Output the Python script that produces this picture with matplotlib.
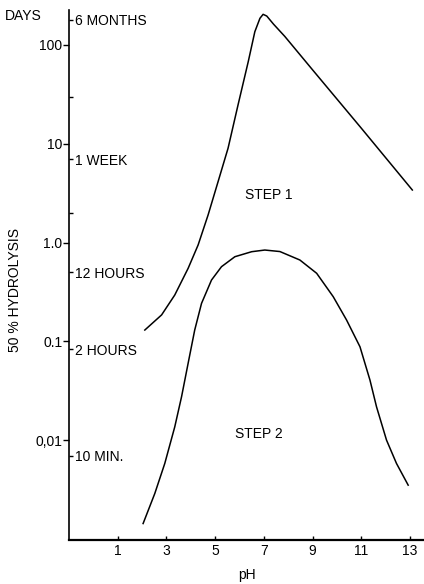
import matplotlib
matplotlib.use("Agg")
import matplotlib.pyplot as plt

plt.rcParams['font.family'] = ['Liberation Sans', 'DejaVu Sans']

# step 1 curve (pH, days for 50 % hydrolysis)
ph_step1 = [2.11, 2.80, 3.34, 3.89, 4.30, 4.71, 5.12, 5.53, 5.94, 6.36, 6.63, 6.84, 6.97, 7.12, 7.4, 7.86,
            9.0, 11.0, 13.1]
days_step1 = [0.13, 0.185, 0.294, 0.548, 0.944, 1.90, 4.13, 9.0, 24.7, 67.8, 136, 186, 204, 196, 162, 122,
              56, 14.4, 3.4]

# step 2 curve
ph_step2 = [2.04, 2.52, 2.93, 3.34, 3.62, 3.89, 4.16, 4.44, 4.85, 5.26, 5.81, 6.50, 7.04, 7.66, 8.48,
            9.17, 9.85, 10.40, 10.95, 11.36, 11.63, 12.04, 12.45, 12.93]
days_step2 = [0.00143, 0.00288, 0.0058, 0.0136, 0.0275, 0.060, 0.130, 0.242, 0.417, 0.569, 0.718, 0.807,
              0.839, 0.81, 0.665, 0.488, 0.283, 0.164, 0.088, 0.0405, 0.0217, 0.010, 0.0058, 0.0035]

left_ticks = [100, 10, 1.0, 0.1, 0.01]
left_labels = ['100', '10', '1.0', '0.1', '0,01']
right_ticks = [180, 7, 0.5, 2 / 24, 10 / 1440]
right_labels = ['6 MONTHS', '1 WEEK', '12 HOURS', '2 HOURS', '10 MIN.']
right_minor = [30, 2]
x_ticks = [1, 3, 5, 7, 9, 11, 13]

ylim = (0.00097, 226)
xlim = (-1.0, 13.58)

fig = plt.figure(figsize=(4.24, 5.84), dpi=100)
ax = fig.add_axes([0.163, 0.075, 0.837, 0.908])

ax.plot(ph_step1, days_step1, color='black', lw=1.1)
ax.plot(ph_step2, days_step2, color='black', lw=1.1)

ax.set_yscale('log')
ax.set_ylim(*ylim)
ax.set_xlim(*xlim)

ax.spines['top'].set_visible(False)
ax.spines['right'].set_visible(False)
ax.spines['left'].set_linewidth(1.2)
ax.spines['bottom'].set_linewidth(1.6)

ax.set_yticks(left_ticks)
ax.set_yticklabels(left_labels, fontsize=10)
ax.yaxis.set_minor_locator(matplotlib.ticker.NullLocator())
ax.tick_params(axis='y', direction='out', length=4, width=1, pad=1)

ax.set_xticks(x_ticks)
ax.set_xticklabels([str(t) for t in x_ticks], fontsize=10)
ax.tick_params(axis='x', direction='in', length=3, width=1, pad=3)
ax.set_xlabel('pH', fontsize=10, labelpad=7)

# time labels on the inside of the y axis
ax2 = ax.twinx()
ax2.set_yscale('log')
ax2.set_ylim(*ylim)
for s in ['top', 'left', 'bottom']:
    ax2.spines[s].set_visible(False)
ax2.spines['right'].set_position(('axes', 0))
ax2.spines['right'].set_visible(False)
ax2.set_yticks(right_ticks)
ax2.set_yticklabels(right_labels, fontsize=10)
ax2.set_yticks(right_minor, minor=True)
ax2.tick_params(axis='y', which='major', direction='out', length=3, width=1, pad=1)
ax2.tick_params(axis='y', which='minor', direction='out', length=3, width=1, labelright=False)

fig.text(0.012, 0.973, 'DAYS', fontsize=10, va='center', ha='left')
fig.text(0.035, 0.503, '50 % HYDROLYSIS', fontsize=10, rotation=90, va='center', ha='center')

ax.text(7.2, 3.0, 'STEP 1', fontsize=10, ha='center', va='center')
ax.text(6.8, 0.0115, 'STEP 2', fontsize=10, ha='center', va='center')

fig.savefig('out.png', dpi=100)
